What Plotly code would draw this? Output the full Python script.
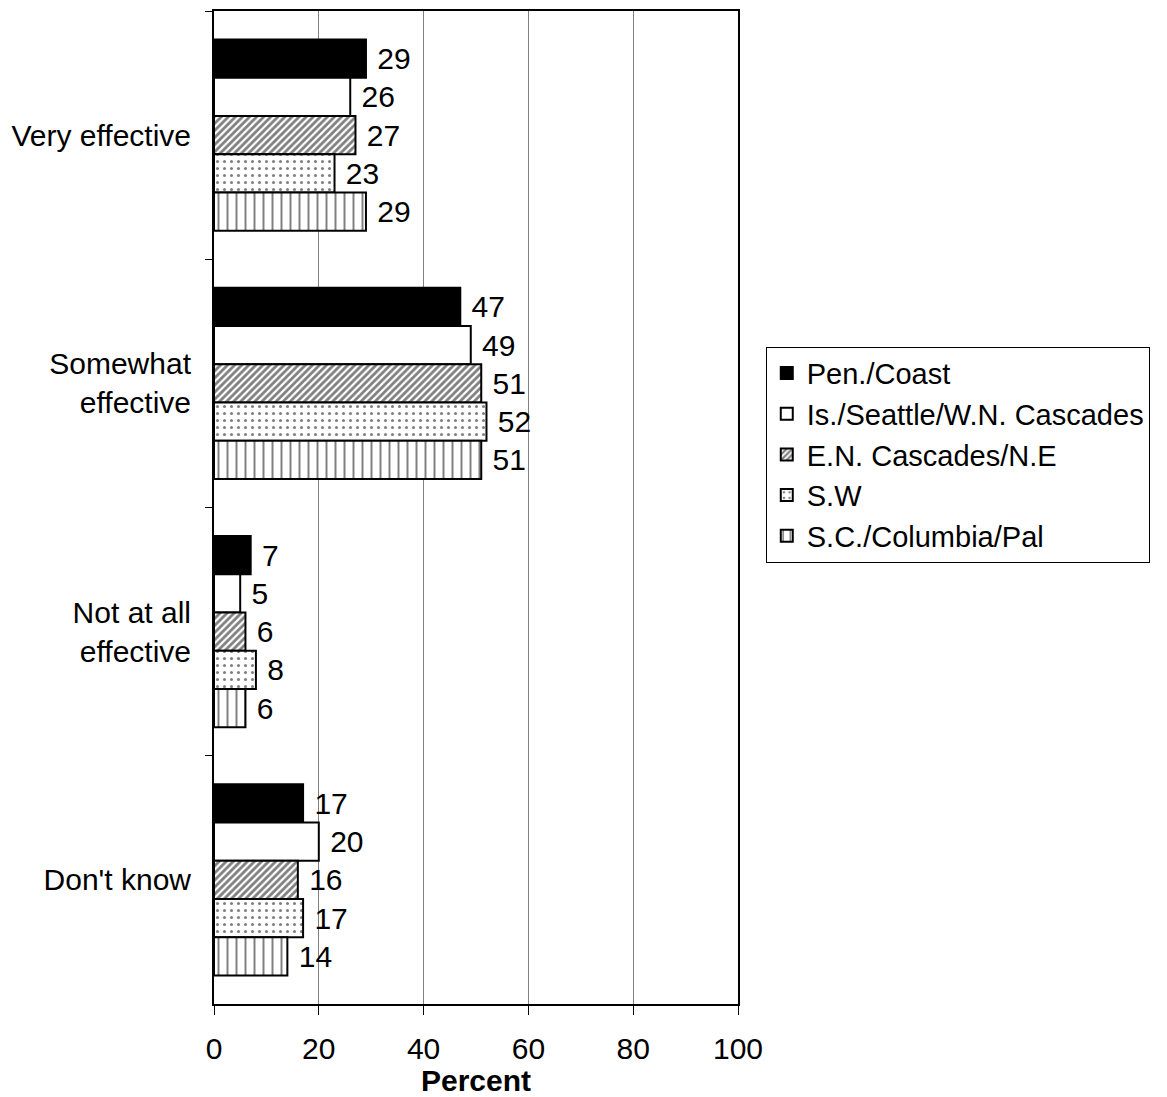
import plotly.graph_objects as go

categories = ["Very effective", "Somewhat<br>effective", "Not at all<br>effective", "Don't know"]
series_names = ["Pen./Coast", "Is./Seattle/W.N. Cascades", "E.N. Cascades/N.E", "S.W", "S.C./Columbia/Pal"]
pen_coast = [29, 47, 7, 17]
is_seattle = [26, 49, 5, 20]
en_cascades = [27, 51, 6, 16]
sw = [23, 52, 8, 17]
sc_columbia = [29, 51, 6, 14]
x_ticks = [0, 20, 40, 60, 80, 100]

values = [pen_coast, is_seattle, en_cascades, sw, sc_columbia]
fills = ["black", "white", "white", "white", "white"]
patterns = [
    dict(shape=""),
    dict(shape=""),
    dict(shape="/", fgcolor="black", bgcolor="white", size=5, solidity=0.55, fillmode="overlay"),
    dict(shape=".", fgcolor="black", bgcolor="white", size=7, solidity=0.15, fillmode="overlay"),
    dict(shape="|", fgcolor="black", bgcolor="white", size=9, solidity=0.22, fillmode="overlay"),
]

font_family = "Liberation Sans, Arial, sans-serif"
FS = 30
fig = go.Figure()
for name, vals, fc, pat in zip(series_names, values, fills, patterns):
    fig.add_trace(go.Bar(
        y=categories, x=vals, name=name, orientation="h",
        marker=dict(color=fc, line=dict(color="black", width=2), pattern=pat),
        texttemplate=" %{x}", textposition="outside", cliponaxis=False,
        textfont=dict(size=FS, color="black", family=font_family),
    ))

fig.update_layout(
    barmode="group", bargap=0.23, bargroupgap=0,
    width=1159, height=1089,
    margin=dict(l=206, r=429, t=3, b=93, autoexpand=False),
    paper_bgcolor="white", plot_bgcolor="white",
    font=dict(family=font_family, size=FS, color="black"),
    showlegend=True,
    legend=dict(x=1.053, y=0.662, xanchor="left", yanchor="top",
                bordercolor="black", borderwidth=1, font=dict(size=29),
                traceorder="normal", tracegroupgap=0, itemwidth=30),
)
fig.update_xaxes(
    range=[0, 100], tickvals=x_ticks, ticks="outside", ticklen=9, tickcolor="black",
    showgrid=True, gridcolor="#808080", gridwidth=1,
    showline=True, linecolor="black", linewidth=2, mirror=True,
    title=dict(text="<b>Percent</b>", font=dict(size=FS), standoff=8),
    tickfont=dict(size=FS), zeroline=False, automargin=False, ticklabelstandoff=8,
)
fig.update_yaxes(
    autorange="reversed", ticks="outside", tickson="boundaries", ticklen=7, tickcolor="black",
    showline=True, linecolor="black", linewidth=2, mirror=True,
    tickfont=dict(size=FS), showgrid=False, ticklabelstandoff=15, automargin=False,
)
fig.write_html("out.html")
